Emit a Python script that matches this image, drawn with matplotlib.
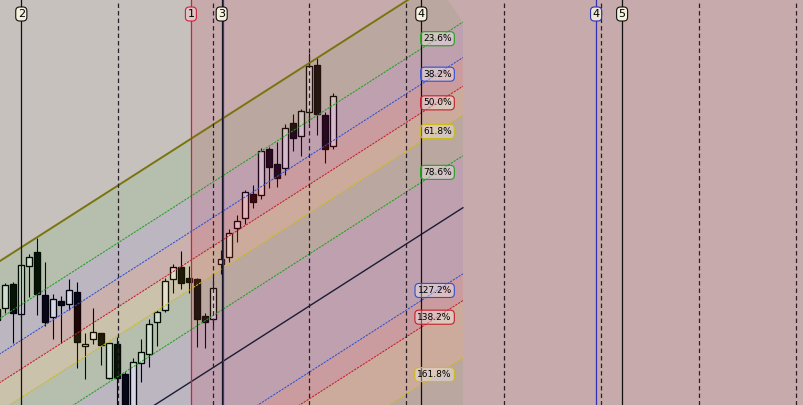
"""Fibonacci channel over a candlestick chart -> out.png"""

import matplotlib

matplotlib.use("Agg")
import matplotlib.pyplot as plt  # noqa: E402
import numpy as np  # noqa: E402
from matplotlib.patches import Rectangle  # noqa: E402

plt.rcParams["lines.scale_dashes"] = False

_BG = "#c6c1bd"          # chart background (gray)
_SHADE = "#d3284c"       # translucent time-range overlay
_BULL = "#e2e2e2"
_BEAR = "#080808"
_EDGE = "#000000"

# --- candles (bar index from first_bar, values in points) ---
first_bar = -1
opens = [96, 97, 121, 91, 139, 153, 110, 88, 104, 101, 113, 59, 66, 72, 27, 61, 31, -7,
         42, 51, 83, 95, 126, 138, 127, 126, 89, 86, 141, 148, 177, 187, 211, 210, 256,
         241, 237, 282, 269, 293, 340, 290, 259]
highs = [100, 122, 123, 141, 151, 167, 143, 111, 109, 126, 123, 72, 97, 72, 62, 68, 33, 47,
         66, 86, 95, 127, 141, 154, 139, 127, 92, 128, 155, 176, 190, 215, 220, 257, 258,
         263, 281, 291, 296, 352, 348, 293, 312]
lows = [80, 92, 62, 89, 108, 90, 79, 66, 62, 95, 37, 26, 61, 40, 26, -5, -15, -13,
        23, 38, 59, 93, 112, 116, 112, 58, 57, 79, 131, 143, 163, 181, 197, 206, 217,
        218, 230, 254, 249, 282, 270, 242, 256]
closes = [85, 120, 92, 140, 148, 111, 83, 106, 100, 115, 63, 61, 73, 60, 62, 27, -7, 43,
          53, 81, 93, 124, 138, 122, 123, 86, 83, 117, 146, 172, 184, 213, 203, 254, 238,
          227, 277, 267, 294, 339, 291, 256, 309]

# --- fibonacci channel ---
chan_anchor_x = 0.0
chan_anchor_y = 147.4
chan_slope = 5.12         # points per bar
chan_width = 243.0        # distance of the 100% level below the 0% line
chan_start = -3.0
chan_end = 57.2
zero_end = 53.8           # fill of the first band stops early on the 0% line
fib_levels = [0.0, 23.6, 38.2, 50.0, 61.8, 78.6, 100.0, 127.2, 138.2, 161.8, 200.0]
fib_colors = ["#7a7410", "#22a022", "#3050d0", "#c41e2a", "#ccbc1c", "#22a022",
              "#1c1c36", "#3050d0", "#c41e2a", "#ccbc1c", "#22a022"]
band_colors = ["#00a000", "#0000ff", "#ff0000", "#ffd000", "#00a000",
               "#0000ff", "#0000ff", "#ff0000", "#ffd000", "#00a000"]
band_alpha = [0.08, 0.055, 0.08, 0.09, 0.08, 0.055, 0.055, 0.08, 0.09, 0.08]
label_levels = [23.6, 38.2, 50.0, 61.8, 78.6, 127.2, 138.2, 161.8]
label_x = 52.0

# --- vertical objects ---
separators = [14.1, 26.0, 38.0, 50.1, 62.3, 74.45, 86.7, 98.8]
marker_x = [2.0, 23.2, 27.05, 27.22, 52.0, 73.85, 77.1]
marker_text = ["2", "1", "3", "", "4", "4", "5"]
marker_color = ["#101010", "#d0203a", "#101010", "#3030b0", "#101010", "#3030b0", "#101010"]
marker_face = ["#f5f0dc", "#dcc6c6", "#f5f0dc", "", "#f5f0dc", "#ece6d6", "#f5f0dc"]
shade_from = 23.2


def level_value(x, level):
    return chan_anchor_y + chan_slope * (np.asarray(x) - chan_anchor_x) - chan_width * level / 100.0


fig = plt.figure(figsize=(8.04, 4.05), dpi=100, facecolor=_BG)
ax = fig.add_axes([0, 0, 1, 1])
ax.set_xlim(-5.3 / 8, (804 - 5.3) / 8)
ax.set_ylim(0, 405)
ax.axis("off")

# candles
for i, (o, h, l, c) in enumerate(zip(opens, highs, lows, closes)):
    x = first_bar + i
    ax.vlines(x, l, h, color=_EDGE, lw=0.8, zorder=2)
    lo, hi = min(o, c), max(o, c)
    ax.add_patch(Rectangle((x - 0.38, lo), 0.76, hi - lo, facecolor=_BULL if c >= o else _BEAR,
                           edgecolor=_EDGE, lw=0.95, zorder=2.1))

# channel bands (drawn over the candles, translucent)
xs = np.array([chan_start, chan_end])
for j in range(len(fib_levels) - 1):
    top_end = zero_end if j == 0 else chan_end
    px = [chan_start, top_end, chan_end, chan_start]
    py = [level_value(chan_start, fib_levels[j]), level_value(top_end, fib_levels[j]),
          level_value(chan_end, fib_levels[j + 1]), level_value(chan_start, fib_levels[j + 1])]
    ax.fill(px, py, color=band_colors[j], alpha=band_alpha[j], lw=0, zorder=3)

# time range overlay
ax.axvspan(shade_from, ax.get_xlim()[1], color=_SHADE, alpha=0.15, lw=0, zorder=4)

# level lines
for lvl, col in zip(fib_levels, fib_colors):
    if lvl == 0:
        ax.plot(xs, level_value(xs, lvl), color=col, lw=1.4, zorder=5)
    elif lvl == 100:
        ax.plot(xs, level_value(xs, lvl), color=col, lw=1.0, zorder=5)
    else:
        ax.plot(xs, level_value(xs, lvl), color=col, lw=0.75, ls=(0, (1.6, 0.8)), zorder=5)

# period separators
for x in separators:
    ax.axvline(x, color="#2c2028", lw=0.9, ls=(0, (3.2, 2.2)), zorder=6)

# vertical lines with numbered tags
tag_tr = ax.get_xaxis_transform()
for x, txt, col, face in zip(marker_x, marker_text, marker_color, marker_face):
    ax.axvline(x, color=col, lw=0.9, zorder=6)
    if txt:
        ax.text(x, 1 - 14 / 405, txt, transform=tag_tr, ha="center", va="center",
                fontsize=8, color="#000000", zorder=8,
                bbox=dict(boxstyle="round,pad=0.18,rounding_size=0.35", fc=face, ec=col, lw=0.8))

# level labels
for lvl in label_levels:
    col = fib_colors[fib_levels.index(lvl)]
    ax.annotate(f"{lvl:.1f}%", xy=(label_x, level_value(label_x, lvl)), xytext=(30.5, 10),
                textcoords="offset pixels", ha="right", va="center", fontsize=6.5,
                color="#000000", zorder=8,
                bbox=dict(boxstyle="round,pad=0.28,rounding_size=0.45",
                          fc=(1, 1, 1, 0.35), ec=col, lw=0.8))

fig.savefig("out.png", dpi=100, facecolor=_BG)
plt.close(fig)
